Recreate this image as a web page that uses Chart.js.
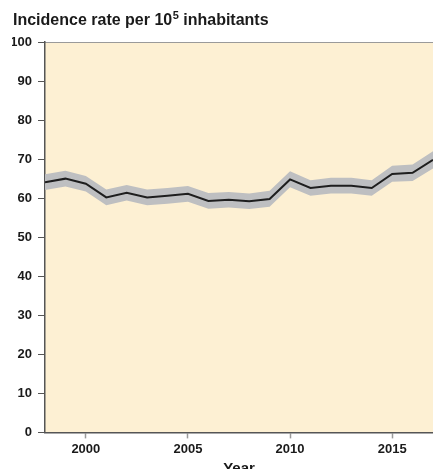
<!DOCTYPE html>
<html>
<head>
<meta charset="utf-8">
<script src="https://cdn.jsdelivr.net/npm/chart.js@4/dist/chart.umd.min.js"></script>
<style>
    html, body { margin: 0; padding: 0; background: #fff; overflow: hidden; }
    #chart-div { width: 433px; height: 485px; }
</style>
</head>
<body>
<div id="chart-div"><canvas id="chart1" width="433" height="485"></canvas></div>
<script>
//--------------------------------------DATOS
var anos = [1998, 1999, 2000, 2001, 2002, 2003, 2004, 2005, 2006, 2007,
            2008, 2009, 2010, 2011, 2012, 2013, 2014, 2015, 2016, 2017];
var tasa = [64.1, 65.0, 63.7, 60.2, 61.4, 60.2, 60.6, 61.1, 59.3, 59.6,
            59.2, 59.8, 64.8, 62.6, 63.2, 63.2, 62.6, 66.2, 66.5, 69.8];
var superior = [66.1, 67.0, 65.7, 62.2, 63.4, 62.2, 62.6, 63.1, 61.3, 61.6,
                61.2, 61.9, 66.9, 64.6, 65.2, 65.2, 64.6, 68.3, 68.6, 72.0];
var inferior = [62.1, 63.0, 61.7, 58.2, 59.4, 58.2, 58.6, 59.1, 57.3, 57.6,
                57.2, 57.8, 62.8, 60.6, 61.2, 61.2, 60.6, 64.2, 64.4, 67.6];
var ticksX = [2000, 2005, 2010, 2015];
var ticksY = [0, 10, 20, 30, 40, 50, 60, 70, 80, 90, 100];

var familia = "'Liberation Sans', Arial, sans-serif";

function puntos(valores) {
    var arr = [];
    for (var i = 0; i < anos.length; i++) {
        arr.push({x: anos[i], y: valores[i]});
    }
    return arr;
}

//--------------------------------------FONDO Y TITULO
var fondo = {
    id: 'fondo',
    beforeDraw: function (chart) {
        var ctx = chart.ctx;
        var a = chart.chartArea;
        ctx.save();
        ctx.fillStyle = '#fdf0d3';
        ctx.fillRect(a.left, a.top, a.right - a.left, a.bottom - a.top);
        ctx.strokeStyle = '#9a9a9a';
        ctx.lineWidth = 1;
        ctx.beginPath();
        ctx.moveTo(a.left, a.top + 0.5);
        ctx.lineTo(a.right, a.top + 0.5);
        ctx.stroke();

        // titulo con superindice
        ctx.fillStyle = '#1a1a1a';
        ctx.textBaseline = 'alphabetic';
        ctx.textAlign = 'left';
        var x = 13;
        ctx.font = 'bold 16px ' + familia;
        var t1 = 'Incidence rate per 10';
        ctx.fillText(t1, x, 25);
        x += ctx.measureText(t1).width + 0.5;
        ctx.font = 'bold 11px ' + familia;
        ctx.fillText('5', x, 19);
        x += ctx.measureText('5').width;
        ctx.font = 'bold 16px ' + familia;
        ctx.fillText(' inhabitants', x, 25);
        ctx.restore();
    }
};

var fuente = {family: familia, size: 13, weight: 'bold'};

var grafica = new Chart(document.getElementById('chart1'), {
    type: 'line',
    data: {
        datasets: [{
            label: 'Tasa',
            data: puntos(tasa),
            borderColor: '#1e1e1e',
            borderWidth: 2,
            pointRadius: 0,
            fill: false
        }, {
            label: 'superior',
            data: puntos(superior),
            borderWidth: 0,
            pointRadius: 0,
            backgroundColor: '#bebfc1',
            fill: '+1'
        }, {
            label: 'inferior',
            data: puntos(inferior),
            borderWidth: 0,
            pointRadius: 0,
            fill: false
        }]
    },
    options: {
        responsive: false,
        animation: false,
        layout: {padding: {left: 12, right: 0, top: 42, bottom: 3}},
        plugins: {
            legend: {display: false},
            tooltip: {enabled: false},
            title: {display: false}
        },
        scales: {
            x: {
                type: 'linear',
                min: 1998,
                max: 2017,
                afterBuildTicks: function (scale) {
                    scale.ticks = ticksX.map(function (v) { return {value: v}; });
                },
                ticks: {
                    color: '#1a1a1a',
                    font: fuente,
                    padding: 3,
                    maxRotation: 0,
                    callback: function (v) { return String(v); }
                },
                grid: {drawOnChartArea: false, tickLength: 6, color: '#9a9a9a', tickWidth: 1.5},
                border: {color: '#555', width: 1.5},
                title: {
                    display: true,
                    text: 'Year',
                    color: '#1a1a1a',
                    font: {family: familia, size: 15, weight: 'bold'},
                    padding: {top: 0, bottom: 4}
                }
            },
            y: {
                min: 0,
                max: 100,
                afterBuildTicks: function (scale) {
                    scale.ticks = ticksY.map(function (v) { return {value: v}; });
                },
                afterFit: function (scale) {
                    scale.width = 33;
                },
                ticks: {
                    color: '#1a1a1a',
                    font: fuente,
                    padding: 6
                },
                grid: {drawOnChartArea: false, tickLength: 7, color: '#555', tickWidth: 1},
                border: {color: '#555', width: 1.5}
            }
        }
    },
    plugins: [fondo]
});
</script>
</body>
</html>
